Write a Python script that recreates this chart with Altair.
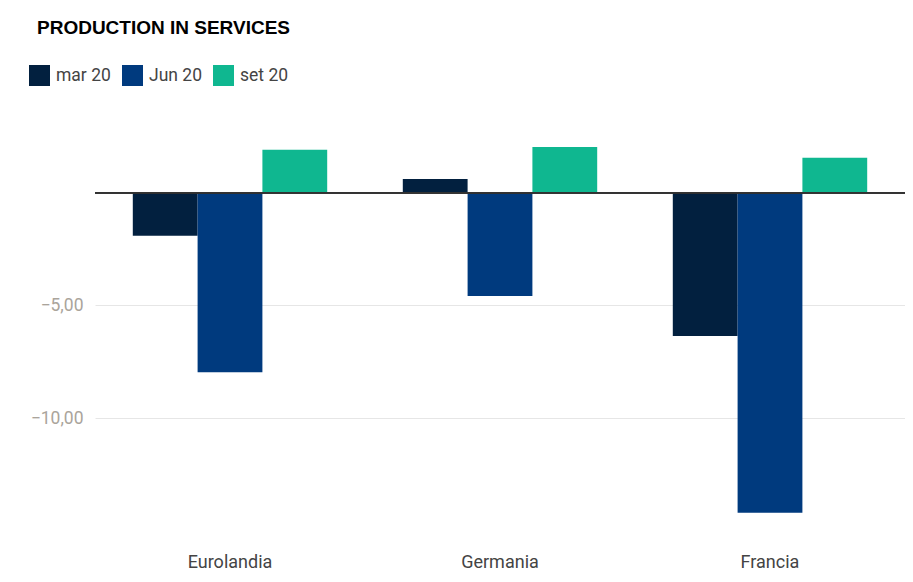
import altair as alt
import pandas as pd

countries = ["Eurolandia", "Germania", "Francia"]
series = ["mar 20", "Jun 20", "set 20"]
colors = ["#02203f", "#003a7e", "#0fb790"]
mar_vals = [-1.91, 0.62, -6.36]
jun_vals = [-7.96, -4.58, -14.2]
set_vals = [1.91, 2.04, 1.56]
y_ticks = [-10, -5]

rows = []
for i, c in enumerate(countries):
    rows.append({"country": c, "series": series[0], "value": mar_vals[i]})
    rows.append({"country": c, "series": series[1], "value": jun_vals[i]})
    rows.append({"country": c, "series": series[2], "value": set_vals[i]})
df = pd.DataFrame(rows)

bars = alt.Chart(df).mark_bar().encode(
    x=alt.X("country:N", sort=countries, title=None,
            scale=alt.Scale(paddingInner=0.28, paddingOuter=0.14),
            axis=alt.Axis(labelAngle=0, ticks=False, domain=False, labelPadding=11,
                          labelFont="Roboto", labelFontSize=18, labelColor="#444444")),
    xOffset=alt.XOffset("series:N", sort=series, scale=alt.Scale(paddingInner=0, paddingOuter=0)),
    y=alt.Y("value:Q", title=None,
            scale=alt.Scale(domain=[-15.5, 3.5], nice=False, zero=False),
            axis=alt.Axis(values=y_ticks, ticks=False, domain=False, labelPadding=12,
                          labelExpr="replace(format(datum.value, '.2f'), '.', ',')",
                          labelFont="Roboto", labelFontSize=17.5, labelColor="#aaa49b",
                          gridColor="#e6e6e6", gridWidth=1)),
    color=alt.Color("series:N", sort=series,
                    scale=alt.Scale(domain=series, range=colors),
                    legend=alt.Legend(title=None, orient="none", direction="horizontal",
                                      legendX=-66, legendY=-49, symbolType="square",
                                      symbolSize=441, symbolStrokeWidth=0, symbolOpacity=1,
                                      labelFont="Roboto", labelFontSize=17.5, labelColor="#444444",
                                      columnPadding=11, labelOffset=6, padding=0)),
)

zero = alt.Chart(df).mark_rule(color="#333333", strokeWidth=1).encode(y=alt.datum(0))

chart = alt.layer(bars, zero).properties(
    width=810, height=428,
    autosize=alt.AutoSizeParams(type="none"),
    padding={"left": 87, "top": 106, "right": 0, "bottom": 30},
    title=alt.TitleParams("PRODUCTION IN SERVICES", anchor="start", frame="group",
                          dx=-58, offset=12, baseline="alphabetic",
                          font="Liberation Sans", fontSize=19, fontWeight="bold", color="#000000"),
).configure_view(stroke=None)

chart.save("out.html", embed_options={"renderer": "svg", "actions": False})
